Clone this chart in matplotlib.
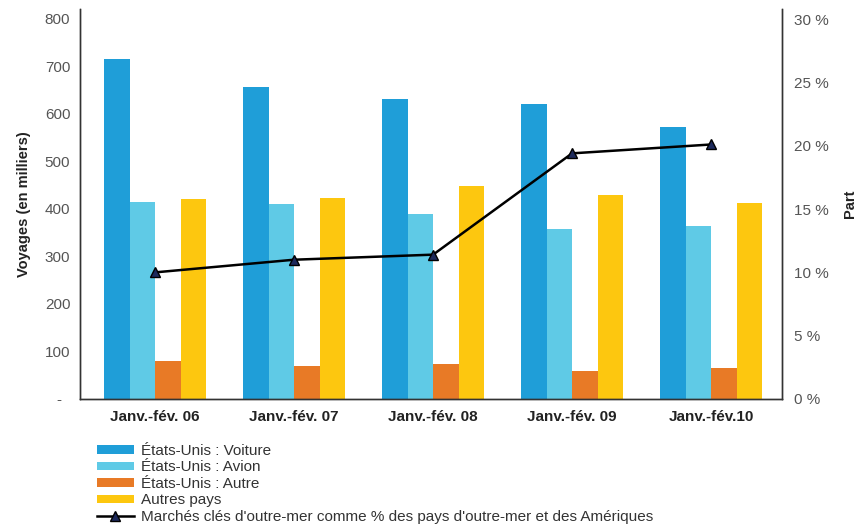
import matplotlib
matplotlib.use("Agg")
import matplotlib.pyplot as plt
import numpy as np

plt.rcParams['font.family'] = ['Liberation Sans', 'DejaVu Sans']

categories = ["Janv.-fév. 06", "Janv.-fév. 07", "Janv.-fév. 08", "Janv.-fév. 09", "Janv.-fév.10"]
voiture = [716, 657, 632, 621, 573]
avion = [415, 411, 389, 358, 364]
autre = [80, 69, 74, 59, 65]
autres_pays = [421, 423, 448, 429, 413]
part = [10.0, 11.0, 11.4, 19.4, 20.1]

series = [
    ("États-Unis : Voiture", voiture, "#1f9ed8"),
    ("États-Unis : Avion", avion, "#5fcae6"),
    ("États-Unis : Autre", autre, "#e87a26"),
    ("Autres pays", autres_pays, "#fdc70f"),
]

fig = plt.figure(figsize=(8.57, 5.25), dpi=100)
ax = fig.add_axes([80/857, 1-399/525, 702/857, 390/525])
ax2 = ax.twinx()

x = np.arange(len(categories))
w = 0.183
handles = []
for i, (lab, vals, col) in enumerate(series):
    b = ax.bar(x + (i - 1.5) * w, vals, width=w, color=col, label=lab, zorder=2)
    handles.append(b)

ln, = ax2.plot(x, part, color="black", lw=1.8, marker="^", markersize=6.5,
               markerfacecolor="#1d2a5c", markeredgecolor="black",
               label="Marchés clés d'outre-mer comme % des pays d'outre-mer et des Amériques")
handles.append(ln)

ax.set_xlim(-0.54, 4.51)
ax.set_ylim(0, 821)
ax2.set_ylim(0, 30.8)
ax.set_yticks(range(0, 801, 100))
ax.set_yticklabels(["-  "] + [str(v) for v in range(100, 801, 100)])
ax2.set_yticks(range(0, 31, 5))
ax2.set_yticklabels([f"{v} %" for v in range(0, 31, 5)])
ax.set_xticks(x)
ax.set_xticklabels(categories, fontsize=11, color="#222222", fontweight="bold")

for a in (ax, ax2):
    a.spines['top'].set_visible(False)
    for s in ('left', 'right', 'bottom'):
        a.spines[s].set_color("#333333")
        a.spines[s].set_linewidth(1.0)
    a.tick_params(length=0)
ax.tick_params(axis='y', labelsize=11, labelcolor="#555555", pad=7)
ax2.tick_params(axis='y', labelsize=11, labelcolor="#555555", pad=9)
ax.tick_params(axis='x', pad=8)

ax.set_ylabel("Voyages (en milliers)", fontsize=10.5, color="#222222", fontweight="bold", labelpad=10)
ax2.set_ylabel("Part", fontsize=10.5, color="#222222", fontweight="bold", labelpad=10)

leg = fig.legend(handles=handles, loc="upper left", bbox_to_anchor=(97/857, 1-444/525),
                 frameon=False, fontsize=11, labelspacing=0.16, handlelength=2.4,
                 handleheight=0.45, handletextpad=0.5, borderaxespad=0, borderpad=0)
for t in leg.get_texts():
    t.set_color("#333333")

fig.savefig("out.png", dpi=100)
